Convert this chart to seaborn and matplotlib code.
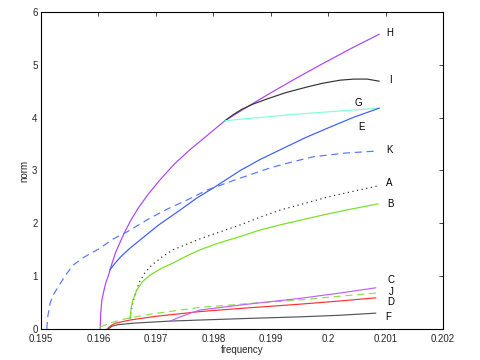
import matplotlib
matplotlib.use("Agg")
import matplotlib.pyplot as plt
import seaborn as sns
import pandas as pd

# ---- data ----
H_f = [0.19603, 0.19604, 0.19606, 0.19610, 0.19613, 0.19617, 0.19623, 0.19630, 0.19638, 0.19646, 0.19657,
       0.19670, 0.19688, 0.19707, 0.19732, 0.19759, 0.19790, 0.19820, 0.19860, 0.19900, 0.19945, 0.19990,
       0.20040, 0.20089]
H_v = [0.0, 0.30, 0.55, 0.75, 0.88, 1.00, 1.22, 1.45, 1.65, 1.84, 2.07,
       2.30, 2.57, 2.82, 3.12, 3.39, 3.67, 3.94, 4.21, 4.47, 4.75, 5.02,
       5.31, 5.58]

I_f = [0.19820, 0.19835, 0.19850, 0.19870, 0.19890, 0.19925, 0.19963, 0.19990, 0.20021, 0.20045, 0.20068, 0.20089]
I_v = [3.94, 4.06, 4.16, 4.26, 4.34, 4.47, 4.58, 4.65, 4.71, 4.73, 4.73, 4.69]

G_f = [0.19820, 0.19847, 0.19950, 0.20089]
G_v = [3.94, 3.97, 4.07, 4.18]

E_f = [0.19620, 0.19630, 0.19640, 0.19655, 0.19672, 0.19705, 0.19742, 0.19770, 0.19800, 0.19847,
       0.19880, 0.19916, 0.19960, 0.20003, 0.20045, 0.20089]
E_v = [1.12, 1.26, 1.38, 1.53, 1.68, 1.97, 2.25, 2.47, 2.67, 3.00,
       3.20, 3.39, 3.62, 3.82, 4.01, 4.18]

K_f = [0.19510, 0.19512, 0.19516, 0.19520, 0.19534, 0.19545, 0.19556, 0.19575, 0.19603, 0.19625, 0.19650,
       0.19690, 0.19720, 0.19754, 0.19789, 0.19840, 0.19899, 0.19940, 0.19974, 0.20030, 0.20087]
K_v = [0.0, 0.25, 0.49, 0.62, 0.87, 1.05, 1.21, 1.36, 1.53, 1.70, 1.84,
       2.10, 2.27, 2.44, 2.63, 2.83, 3.05, 3.17, 3.26, 3.33, 3.37]

A_f = [0.19655, 0.19657, 0.19660, 0.19665, 0.19672, 0.19680, 0.19690, 0.19710, 0.19730, 0.19755,
       0.19780, 0.19815, 0.19847, 0.19880, 0.19916, 0.19960, 0.20000, 0.20045, 0.20087]
A_v = [0.20, 0.35, 0.50, 0.70, 0.90, 1.05, 1.18, 1.36, 1.50, 1.61,
       1.72, 1.85, 1.97, 2.11, 2.25, 2.38, 2.50, 2.61, 2.71]

B_f = [0.19655, 0.19657, 0.19660, 0.19667, 0.19677, 0.19690, 0.19710, 0.19730, 0.19755, 0.19777,
       0.19810, 0.19847, 0.19880, 0.19916, 0.19960, 0.20000, 0.20045, 0.20087]
B_v = [0.20, 0.40, 0.55, 0.74, 0.90, 1.02, 1.15, 1.25, 1.39, 1.50,
       1.63, 1.75, 1.87, 1.97, 2.08, 2.18, 2.28, 2.37]

J_f = [0.19603, 0.19620, 0.19638, 0.19655, 0.19690, 0.19777, 0.19860, 0.19951, 0.20020, 0.20083]
J_v = [0.04, 0.11, 0.17, 0.21, 0.28, 0.41, 0.48, 0.55, 0.62, 0.68]

D_f = [0.19615, 0.19619, 0.19624, 0.19630, 0.19638, 0.19655, 0.19700, 0.19777, 0.19860, 0.19951, 0.20020, 0.20083]
D_v = [0.0, 0.04, 0.08, 0.11, 0.13, 0.17, 0.24, 0.33, 0.40, 0.47, 0.53, 0.59]

F_f = [0.19617, 0.19623, 0.19633, 0.19660, 0.19725, 0.19777, 0.19860, 0.19951, 0.20020, 0.20083]
F_v = [0.0, 0.05, 0.08, 0.11, 0.15, 0.17, 0.20, 0.23, 0.26, 0.30]

C_f = [0.19725, 0.19740, 0.19760, 0.19777, 0.19860, 0.19951, 0.20020, 0.20083]
C_v = [0.15, 0.22, 0.30, 0.36, 0.47, 0.58, 0.68, 0.78]

labels = ["H", "I", "G", "E", "K", "A", "B", "C", "J", "D", "F"]
label_f = [0.20101, 0.20106, 0.20045, 0.20052, 0.20101, 0.20101, 0.20103, 0.20103, 0.20106, 0.20103, 0.20099]
label_v = [5.60, 4.71, 4.28, 3.83, 3.39, 2.76, 2.37, 0.93, 0.70, 0.51, 0.23]

x_ticks = [0.195, 0.196, 0.197, 0.198, 0.199, 0.2, 0.201, 0.202]
x_ticklabels = ["0.195", "0.196", "0.197", "0.198", "0.199", "0.2", "0.201", "0.202"]
y_ticks = [0, 1, 2, 3, 4, 5, 6]

series = [
    (H_f, H_v, "#b040ff", "-"),
    (I_f, I_v, "#333333", "-"),
    (G_f, G_v, "#80ffd8", "-"),
    (E_f, E_v, "#3a5cff", "-"),
    (K_f, K_v, "#5577ff", (0, (6, 4))),
    (A_f, A_v, "#222222", (0, (1, 3))),
    (B_f, B_v, "#77e020", "-"),
    (J_f, J_v, "#88e050", (0, (6, 4))),
    (D_f, D_v, "#ff3030", "-"),
    (F_f, F_v, "#555555", "-"),
    (C_f, C_v, "#c060ff", "-"),
]

sns.set_style("white")
plt.rcParams["font.family"] = ["Liberation Sans", "DejaVu Sans"]
plt.rcParams["xtick.direction"] = "in"
plt.rcParams["ytick.direction"] = "in"

fig = plt.figure(figsize=(4.8, 3.6), dpi=100)
ax = fig.add_axes([0.0854, 0.0861, 0.8376, 0.8806])

for f, v, col, ls in series:
    df = pd.DataFrame({"frequency": f, "norm": v})
    sns.lineplot(data=df, x="frequency", y="norm", color=col, linewidth=0.85,
                 estimator=None, sort=False, ax=ax)
    ax.lines[-1].set_linestyle(ls)

for lab, lf, lv in zip(labels, label_f, label_v):
    ax.text(lf, lv, lab, fontsize=7, ha="left", va="center", color="black")

ax.set_xlim(0.195, 0.202)
ax.set_ylim(0, 6)
ax.set_xticks(x_ticks)
ax.set_xticklabels(x_ticklabels)
ax.set_yticks(y_ticks)
ax.tick_params(axis="both", labelsize=7, length=3, width=0.6, top=True, right=True)
ax.tick_params(axis="x", pad=3.5)
ax.tick_params(axis="y", pad=2.5)
for s in ax.spines.values():
    s.set_linewidth(0.8)
    s.set_color("black")
ax.set_xlabel("frequency", fontsize=7, labelpad=1)
ax.set_ylabel("norm", fontsize=7, labelpad=2)

fig.savefig("out.png", dpi=100)
